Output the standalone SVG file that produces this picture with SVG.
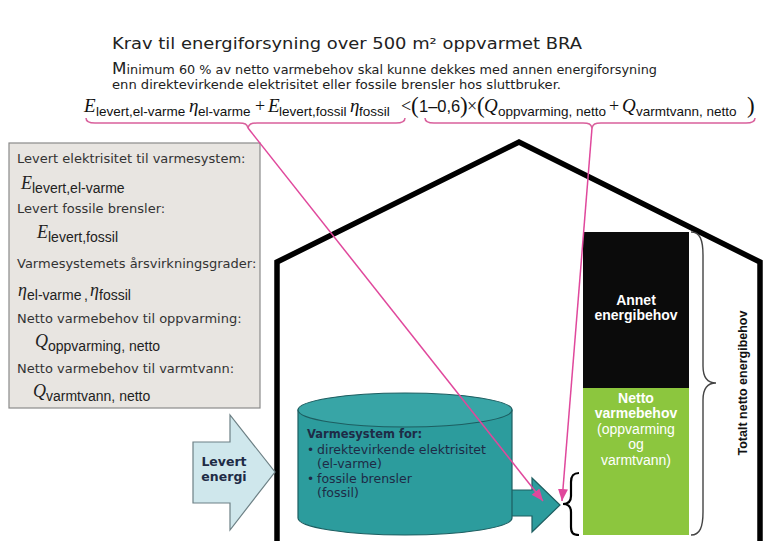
<svg xmlns="http://www.w3.org/2000/svg" width="764" height="541" viewBox="0 0 764 541">
<style>
.t{font-family:"DejaVu Sans",Verdana,sans-serif;fill:#222}
.eq{font-family:"Liberation Serif","Times New Roman",serif;font-style:italic;font-size:19px;fill:#111}
.op{font-family:"Liberation Serif","Times New Roman",serif;font-size:18px;fill:#111}
.par{font-family:"Liberation Serif","Times New Roman",serif;font-size:23px;fill:#111}
.sub{font-family:"Liberation Sans",Arial,sans-serif;font-size:13.5px;fill:#111}
.box{font-family:"DejaVu Sans",Verdana,sans-serif;font-size:13px;fill:#333}
.bsym{font-family:"Liberation Serif",serif;font-style:italic;font-size:18px;fill:#222}
.bsub{font-family:"Liberation Sans",Arial,sans-serif;font-size:14px;fill:#222}
.navy{font-family:"DejaVu Sans",Verdana,sans-serif;fill:#1e2b46}
.wb{font-family:"Liberation Sans",Arial,sans-serif;font-size:14px;fill:#fff;text-anchor:middle}
.pink{fill:none;stroke:#e0489c;stroke-width:1.5}
.brace{fill:none;stroke:#d9609c;stroke-width:1.5}
</style>
<defs>
<marker id="ah" markerUnits="userSpaceOnUse" markerWidth="12" markerHeight="10" refX="12" refY="5" orient="auto">
<path d="M0,0 L12,5 L0,10 Z" fill="#e0489c"/>
</marker>
</defs>

<g id="title">
<text class="t" x="112" y="49" font-size="16" textLength="470" lengthAdjust="spacingAndGlyphs">Krav til energiforsyning over 500 m² oppvarmet BRA</text>
</g>
<g id="subtitle">
<text class="t" x="112" y="74" font-size="11.5" textLength="545" lengthAdjust="spacingAndGlyphs"><tspan font-size="15">M</tspan>inimum 60 % av netto varmebehov skal kunne dekkes med annen energiforsyning</text>
<text class="t" x="112" y="89" font-size="11.5" textLength="449" lengthAdjust="spacingAndGlyphs">enn direktevirkende elektrisitet eller fossile brensler hos sluttbruker.</text>
</g>

<g id="house">
<polyline points="277,545 277,262 519,142 760,262 760,545" fill="none" stroke="#000" stroke-width="5.5" stroke-linejoin="miter"/>
</g>

<g id="equation">
<text class="eq" x="84" y="112">E</text>
<text class="sub" x="96" y="116">levert,el-varme</text>
<text class="eq" x="189" y="112">η</text>
<text class="sub" x="198" y="116">el-varme</text>
<text class="op" x="255" y="112">+</text>
<text class="eq" x="268" y="112">E</text>
<text class="sub" x="279" y="116">levert,fossil</text>
<text class="eq" x="350" y="112">η</text>
<text class="sub" x="359" y="116">fossil</text>
<text class="op" x="401" y="112">&lt;</text>
<text class="par" x="411" y="113">(</text>
<text class="sub" x="419" y="112" style="font-size:16.5px">1–0,6</text>
<text class="par" x="460" y="113">)</text>
<text class="op" x="467" y="112">×</text>
<text class="par" x="477" y="113">(</text>
<text class="eq" x="484" y="112">Q</text>
<text class="sub" x="498" y="116">oppvarming, netto</text>
<text class="op" x="609" y="112">+</text>
<text class="eq" x="622" y="112">Q</text>
<text class="sub" x="636" y="116">varmtvann, netto</text>
<text class="par" x="747" y="113">)</text>
<path class="brace" d="M86,118 C86,122 89,123 95,123 L239,123 C245,123 247,124 248,128 C249,124 251,123 257,123 L396,123 C402,123 405,122 405,118"/>
<path class="brace" d="M425,118 C425,122 428,123 434,123 L583,123 C589,123 591,124 592,128 C593,124 595,123 601,123 L746,123 C752,123 755,122 755,118"/>
</g>

<g id="legend">
<rect x="9" y="143" width="251" height="265" fill="#e8e5e1" stroke="#8a8a8a" stroke-width="1.2"/>
<text class="box" x="17" y="163">Levert elektrisitet til varmesystem:</text>
<text class="bsym" x="21" y="189">E</text><text class="bsub" x="32" y="193">levert,el-varme</text>
<text class="box" x="17" y="213">Levert fossile brensler:</text>
<text class="bsym" x="37" y="238">E</text><text class="bsub" x="48" y="242">levert,fossil</text>
<text class="box" x="17" y="268">Varmesystemets årsvirkningsgrader:</text>
<text class="bsym" x="18" y="296">η</text><text class="bsub" x="27" y="300">el-varme</text><text class="bsub" x="84" y="300">,</text>
<text class="bsym" x="90" y="296">η</text><text class="bsub" x="99" y="300">fossil</text>
<text class="box" x="17" y="323">Netto varmebehov til oppvarming:</text>
<text class="bsym" x="35" y="347">Q</text><text class="bsub" x="48" y="351">oppvarming, netto</text>
<text class="box" x="17" y="373">Netto varmebehov til varmtvann:</text>
<text class="bsym" x="33" y="397">Q</text><text class="bsub" x="46" y="401">varmtvann, netto</text>
</g>

<g id="levert-energi">
<polygon points="193,442 230,442 230,415 275,472 230,530 230,503 193,503" fill="#cfe7ec" stroke="#6d8085" stroke-width="1.2"/>
<text class="navy" x="224" y="466" font-size="12.5" font-weight="bold" text-anchor="middle">Levert</text>
<text class="navy" x="224" y="481" font-size="12.5" font-weight="bold" text-anchor="middle">energi</text>
</g>

<g id="utgang-pil">
<polygon points="510,490 532,490 532,478 560,505 532,532 532,516 510,516" fill="#2c9c9d" stroke="#1d5e61" stroke-width="1.2"/>
</g>

<g id="varmesystem">
<path d="M298,410 L298,518 A107,17 0 0 0 512,518 L512,410 Z" fill="#2c9c9d" stroke="#1d5e61" stroke-width="1.2"/>
<ellipse cx="405" cy="410" rx="107" ry="17" fill="#38a5a6" stroke="#1d5e61" stroke-width="1.2"/>
<text class="navy" x="307" y="438" font-size="11.5" font-weight="bold">Varmesystem for:</text>
<text class="navy" x="307" y="454" font-size="12">•</text><text class="navy" x="317" y="454" font-size="12.5">direktevirkende elektrisitet</text>
<text class="navy" x="317" y="468" font-size="12.5">(el-varme)</text>
<text class="navy" x="307" y="483" font-size="12">•</text><text class="navy" x="317" y="483" font-size="12.5">fossile brensler</text>
<text class="navy" x="317" y="497" font-size="12.5">(fossil)</text>
</g>

<g id="annet-energibehov">
<rect x="583" y="232" width="106" height="156" fill="#0b0b0b"/>
<text class="wb" x="636" y="305" font-weight="bold">Annet</text>
<text class="wb" x="636" y="320" font-weight="bold">energibehov</text>
</g>

<g id="netto-varmebehov">
<rect x="583" y="388" width="106" height="147" fill="#8cc63e"/>
<text class="wb" x="636" y="403" font-weight="bold">Netto</text>
<text class="wb" x="636" y="418" font-weight="bold">varmebehov</text>
<text class="wb" x="636" y="434">(oppvarming</text>
<text class="wb" x="636" y="449">og</text>
<text class="wb" x="636" y="465">varmtvann)</text>
</g>

<g id="brace-netto">
<path d="M579,473 C573,473 571,476 571,482 L571,496 C571,502 568,504 563,504 C568,504 571,506 571,512 L571,527 C571,533 573,535 579,535" fill="none" stroke="#000" stroke-width="2.2"/>
</g>

<g id="totalt">
<path d="M691,232 C700,232 703,240 703,255 L703,366 C703,378 708,383 716,383 C708,383 703,388 703,400 L703,512 C703,527 700,535 691,535" fill="none" stroke="#444" stroke-width="1.4"/>
<text x="747" y="383" transform="rotate(-90 747 383)" font-family="'Liberation Sans',Arial,sans-serif" font-size="12.5" font-weight="bold" fill="#111" text-anchor="middle">Totalt netto energibehov</text>
</g>

<g id="connectors">
<line class="pink" x1="248" y1="128" x2="543" y2="501" marker-end="url(#ah)"/>
<line class="pink" x1="592" y1="128" x2="562" y2="501" marker-end="url(#ah)"/>
</g>
</svg>
